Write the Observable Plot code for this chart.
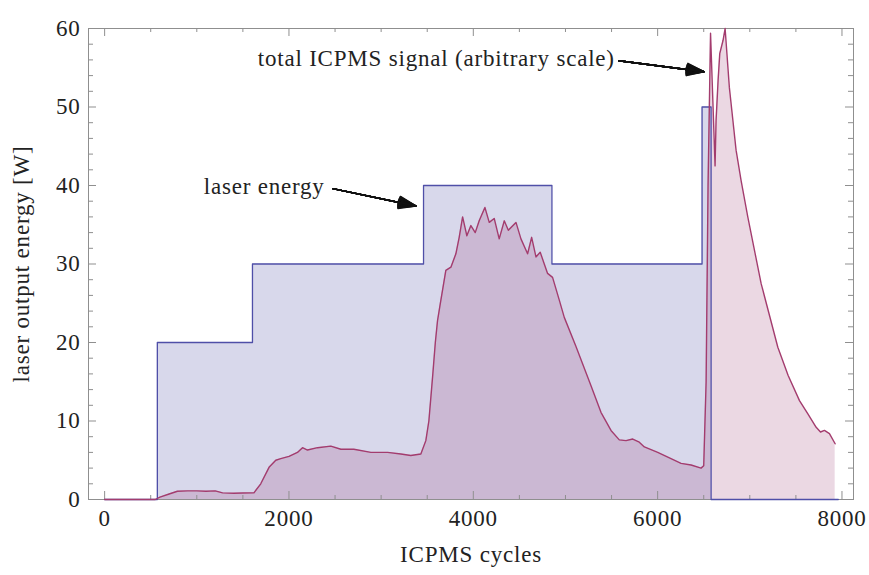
<!DOCTYPE html>
<html><head><meta charset="utf-8">
<script src="https://cdn.jsdelivr.net/npm/d3@7"></script>
<script src="https://cdn.jsdelivr.net/npm/@observablehq/plot@0.6"></script>
<style>html,body{margin:0;padding:0;background:#fff;overflow:hidden}</style>
</head><body><div id="chart"></div>
<script>
// ---- data ----
const laserCycles = [0, 572, 1604, 3460, 4853, 6482, 6580, 7960];
const laserPower  = [0, 20, 30, 40, 30, 50, 0, 0];

const icpmsCycles = [0,550,600,700,790,900,1000,1100,1200,1280,1400,1500,1620,1694,1784,1857,1911,2001,2092,2147,2201,2310,2454,2563,2704,2889,3070,3214,3322,3431,3485,3518,3561,3588,3612,3641,3702,3757,3811,3847,3884,3930,3974,4021,4064,4126,4173,4227,4281,4336,4380,4463,4517,4589,4633,4680,4726,4770,4806,4860,4933,4987,5114,5277,5385,5494,5584,5657,5730,5801,5856,6001,6145,6254,6363,6471,6500,6526,6547,6574,6623,6634,6656,6674,6710,6732,6778,6851,6906,6978,7123,7304,7416,7539,7630,7720,7767,7810,7864,7926];
const icpmsSignal = [0,0,0.3,0.7,1.05,1.1,1.1,1.05,1.1,0.85,0.8,0.82,0.85,2.0,4.1,5.0,5.2,5.5,6.0,6.6,6.3,6.6,6.8,6.4,6.4,6.0,6.0,5.8,5.6,5.8,7.5,10,16,20,22.8,24.9,29.2,29.6,31.3,33.4,36.0,33.6,34.9,34.0,35.5,37.2,35.3,35.8,33.2,35.5,34.3,35.3,33.2,31.3,33.4,30.9,31.5,30.0,28.8,28.3,25.4,23.2,19.5,14.5,11.1,8.8,7.6,7.5,7.7,7.3,6.7,6.0,5.2,4.6,4.4,4.0,4.3,15,40,59.4,42.5,48.3,53.4,56.8,58.5,60,52.5,44.5,40.6,36.0,27.5,19.4,15.8,12.6,10.9,9.2,8.6,8.8,8.4,7.1];

const xMajorTicks = [0, 2000, 4000, 6000, 8000];
const xMinorTicks = [500, 1000, 1500, 2500, 3000, 3500, 4500, 5000, 5500, 6500, 7000, 7500];
const yMajorTicks = [0, 10, 20, 30, 40, 50, 60];
const yMinorTicks = [2,4,6,8,12,14,16,18,22,24,26,28,32,34,36,38,42,44,46,48,52,54,56,58];

const xTitle = "ICPMS cycles";
const yTitle = "laser output energy [W]";

const annotationLabels = ["total ICPMS signal (arbitrary scale)", "laser energy"];
const annotationX = [1661, 1075];
const annotationY = [56.2, 39.9];
const arrowFromX = [5579, 2475];
const arrowFromY = [55.9, 39.6];
const arrowToX = [6502, 3376];
const arrowToY = [54.5, 37.4];

// ---- layout ----
const W = 869, H = 575, mL = 88, mR = 16, mT = 28, mB = 76;
const fw = W - mL - mR, fh = H - mT - mB;
const gray = "#8f8f8f";

const laser = laserCycles.map((x, i) => ({x, y: laserPower[i]}));
const icpms = icpmsCycles.map((x, i) => ({x, y: icpmsSignal[i]}));
const annots = annotationLabels.map((t, i) => ({t, x: annotationX[i], y: annotationY[i]}));
const arrows = arrowFromX.map((x, i) => ({x1: x, y1: arrowFromY[i], x2: arrowToX[i], y2: arrowToY[i]}));
const fanAngles = [0, 4, 8, 12, 16, 20, 24, 28, 32, 36, 40];

const tickMarks = (major, minor) => [
  Plot.tickX(major, {x: d => d, insetTop: fh - 8, stroke: gray}),
  Plot.tickX(minor, {x: d => d, insetTop: fh - 4, stroke: gray}),
  Plot.tickX(major, {x: d => d, insetBottom: fh - 8, stroke: gray}),
  Plot.tickX(minor, {x: d => d, insetBottom: fh - 4, stroke: gray}),
];
const tickMarksY = (major, minor) => [
  Plot.tickY(major, {y: d => d, insetRight: fw - 8, stroke: gray}),
  Plot.tickY(minor, {y: d => d, insetRight: fw - 5, stroke: gray}),
  Plot.tickY(major, {y: d => d, insetLeft: fw - 8, stroke: gray}),
  Plot.tickY(minor, {y: d => d, insetLeft: fw - 5, stroke: gray}),
];

const chart = Plot.plot({
  width: W, height: H,
  marginLeft: mL, marginRight: mR, marginTop: mT, marginBottom: mB,
  style: {fontFamily: '"Liberation Serif", "Times New Roman", serif', fontSize: "23px", color: "#222", background: "#fff", letterSpacing: "0.8px"},
  x: {domain: [-175, 8125]},
  y: {domain: [0, 60]},
  marks: [
    Plot.frame({stroke: gray}),
    Plot.areaY(laser, {x: "x", y: "y", curve: "step-after", fill: "#3d3d99", fillOpacity: 0.2}),
    Plot.areaY(icpms, {x: "x", y: "y", fill: "#993d71", fillOpacity: 0.2}),
    ...tickMarks(xMajorTicks, xMinorTicks),
    ...tickMarksY(yMajorTicks, yMinorTicks),
    Plot.line(laser, {x: "x", y: "y", curve: "step-after", stroke: "#4f4fa8", strokeWidth: 1.3}),
    Plot.line(icpms, {x: "x", y: "y", stroke: "#a33c6e", strokeWidth: 1.4}),
    Plot.axisX({ticks: xMajorTicks, tickSize: 0, tickPadding: 10, tickFormat: "d", label: null}),
    Plot.axisY({ticks: yMajorTicks, tickSize: 0, tickPadding: 8, tickFormat: "d", label: null}),
    Plot.text([xTitle], {text: d => d, frameAnchor: "bottom", textAnchor: "middle", lineAnchor: "top", dy: 46, fontSize: 23}),
    Plot.text([yTitle], {text: d => d, frameAnchor: "left", textAnchor: "middle", rotate: -90, lineAnchor: "top", dx: -76, fontSize: 23}),
    Plot.text(annots, {x: "x", y: "y", text: "t", textAnchor: "start", lineAnchor: "middle", fontSize: 23, fill: "#222"}),
    ...fanAngles.map(a => Plot.arrow(arrows, {x1: "x1", y1: "y1", x2: "x2", y2: "y2", stroke: "#111", strokeWidth: 1.5, headAngle: a, headLength: 18})),
  ]
});
document.getElementById("chart").appendChild(chart);
</script>
</body></html>
